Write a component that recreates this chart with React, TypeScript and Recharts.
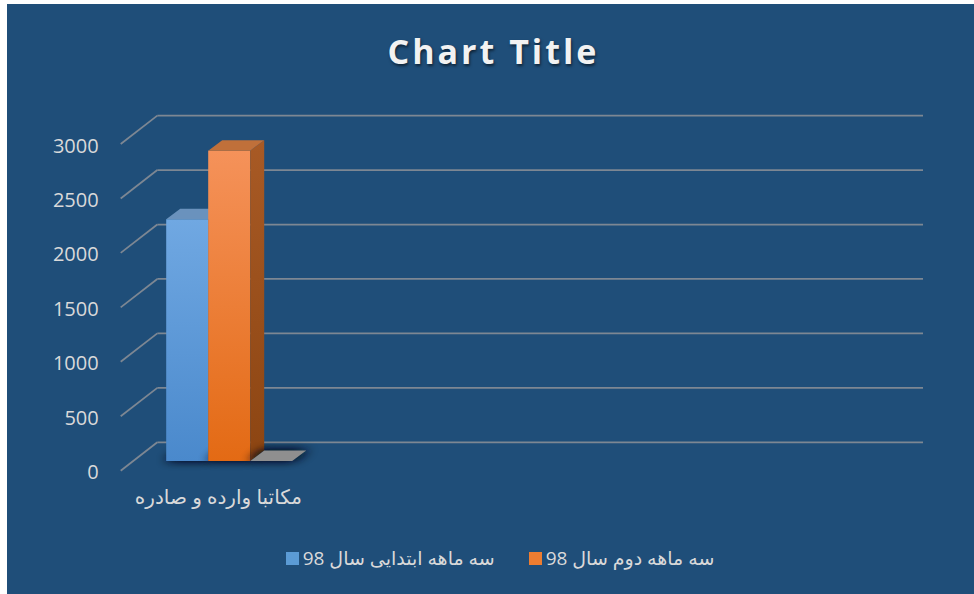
import React from "react";
import { BarChart, Bar, XAxis, YAxis, CartesianGrid, Legend } from "recharts";

// data (only the first category carries values)
const categories = ["مکاتبا وارده و صادره", "", "", ""];
const firstQuarter = [2220, null, null, null];
const secondQuarter = [2850, null, null, null];
const thirdSeries = [0, null, null, null];
const seriesNames = ["سه ماهه ابتدایی سال 98", "سه ماهه دوم سال 98", "Series3"];
const legendKeys = ["s1", "s2"];
const yTicks = [0, 500, 1000, 1500, 2000, 2500, 3000];

const data = categories.map((name, i) => ({
  name,
  s1: firstQuarter[i],
  s2: secondQuarter[i],
  s3: thirdSeries[i],
}));

const BG = "#1f4e79";
const TEXT = "#d9d9d9";
const GRID = "#7d8793";
const FONT = "'Open Sans', 'DejaVu Sans', sans-serif";

// oblique projection of the 3D box
const WALL_DX = 36.6;
const WALL_DY = 28.4;
const BAR_DX = 12.5;
const BAR_DY = 9.7;
const DEPTH_DX = 14;
const DEPTH_DY = 10.5;

type BoxColors = { top: string; front: [string, string]; side: [string, string] };

const boxColors: Record<string, BoxColors> = {
  s1: { top: "#6a92bd", front: ["#70a8e2", "#4a89cc"], side: ["#3f73a8", "#2f5d8c"] },
  s2: { top: "#c0703a", front: ["#f5925a", "#e36a14"], side: ["#a85a25", "#8c4512"] },
  s3: { top: "#8f8f8f", front: ["#a5a5a5", "#8a8a8a"], side: ["#777777", "#666666"] },
};

function makeBox(id: string) {
  const c = boxColors[id];
  return (props: any) => {
    const { x, y, width, height } = props;
    if (x == null || y == null) return <g />;
    const h = Math.max(0, height || 0);
    const fx = x + BAR_DX;
    const fy = y - BAR_DY;
    const right = fx + width;
    const bottom = fy + h;
    const top = `${fx},${fy} ${right},${fy} ${right + DEPTH_DX},${fy - DEPTH_DY} ${fx + DEPTH_DX},${fy - DEPTH_DY}`;
    const side = `${right},${fy} ${right + DEPTH_DX},${fy - DEPTH_DY} ${right + DEPTH_DX},${bottom - DEPTH_DY} ${right},${bottom}`;
    const foot = `${fx},${bottom} ${right},${bottom} ${right + DEPTH_DX},${bottom - DEPTH_DY} ${fx + DEPTH_DX},${bottom - DEPTH_DY}`;
    return (
      <g>
        <defs>
          <linearGradient id={`front-${id}`} x1="0" y1="0" x2="0" y2="1">
            <stop offset="0%" stopColor={c.front[0]} />
            <stop offset="100%" stopColor={c.front[1]} />
          </linearGradient>
          <linearGradient id={`side-${id}`} x1="0" y1="0" x2="0" y2="1">
            <stop offset="0%" stopColor={c.side[0]} />
            <stop offset="100%" stopColor={c.side[1]} />
          </linearGradient>
          <filter id={`shadow-${id}`} x="-100%" y="-300%" width="300%" height="700%">
            <feGaussianBlur stdDeviation="4" />
          </filter>
        </defs>
        <polygon
          points={foot}
          fill="#06111c"
          opacity={0.9}
          filter={`url(#shadow-${id})`}
          transform="translate(-4,0) scale(1)"
        />
        <polygon
          points={foot}
          fill="#06111c"
          opacity={0.7}
          filter={`url(#shadow-${id})`}
          transform="translate(6,-1)"
        />
        {h > 0 && <rect x={fx} y={fy} width={width} height={h} fill={`url(#front-${id})`} />}
        {h > 0 && <polygon points={side} fill={`url(#side-${id})`} />}
        <polygon points={top} fill={c.top} />
      </g>
    );
  };
}

function WallLine(p: any) {
  const { x1, x2, y1 } = p;
  return (
    <g>
      <line x1={x1} y1={y1} x2={x1 + WALL_DX} y2={y1 - WALL_DY} stroke={GRID} strokeWidth={1.75} />
      <line
        x1={x1 + WALL_DX}
        y1={y1 - WALL_DY}
        x2={x2 + WALL_DX}
        y2={y1 - WALL_DY}
        stroke={GRID}
        strokeWidth={1.75}
      />
    </g>
  );
}

function CategoryTick({ x, y, payload }: any) {
  return (
    <text
      x={x + 2}
      y={y}
      dy={33}
      textAnchor="middle"
      fill={TEXT}
      fontSize={20}
      fontFamily={FONT}
      direction="rtl"
    >
      {payload.value}
    </text>
  );
}

function ValueTick({ x, y, payload }: any) {
  return (
    <text x={x} y={y} dy={8.5} textAnchor="end" fill={TEXT} fontSize={20} fontFamily={FONT}>
      {payload.value}
    </text>
  );
}

function LegendContent({ payload }: any) {
  const items = (payload || []).filter((e: any) => legendKeys.includes(e.dataKey));
  return (
    <div
      style={{
        display: "flex",
        justifyContent: "center",
        gap: 34,
        paddingLeft: 19,
        fontFamily: FONT,
        fontSize: 19,
        color: TEXT,
        lineHeight: "24px",
      }}
    >
      {items.map((entry: any) => (
        <div key={entry.value} style={{ display: "flex", alignItems: "center" }}>
          <span
            style={{ width: 13, height: 13, background: entry.color, marginRight: 4, display: "inline-block" }}
          />
          <span style={{ direction: "rtl" }}>{entry.value}</span>
        </div>
      ))}
    </div>
  );
}

export default function App() {
  return (
    <div
      style={{
        position: "absolute",
        left: 7,
        top: 4,
        width: 967,
        height: 590,
        background: BG,
        overflow: "hidden",
      }}
    >
      <div
        style={{
          position: "absolute",
          top: 29.5,
          left: 0,
          width: 967,
          textAlign: "center",
          paddingLeft: 6,
          boxSizing: "border-box",
          fontFamily: FONT,
          fontWeight: 700,
          fontSize: 34,
          lineHeight: "34px",
          letterSpacing: 3,
          color: "#f2f2f2",
          textShadow: "1px 2px 3px rgba(0,0,0,0.55)",
        }}
      >
        Chart Title
      </div>
      <BarChart
        width={967}
        height={590}
        data={data}
        margin={{ top: 140, right: 87.6, bottom: 93.3, left: 0 }}
        barGap={0}
        barSize={42}
      >
        <CartesianGrid vertical={false} horizontal={WallLine} />
        <XAxis
          dataKey="name"
          axisLine={false}
          tickLine={false}
          tickSize={0}
          tickMargin={0}
          interval={0}
          tick={CategoryTick}
        />
        <YAxis
          width={113.7}
          domain={[0, 3000]}
          ticks={yTicks}
          axisLine={false}
          tickLine={false}
          tickSize={0}
          tickMargin={22}
          tick={ValueTick}
        />
        <Legend
          verticalAlign="middle"
          align="center"
          content={LegendContent}
          wrapperStyle={{ top: 542, left: 0, width: 967 }}
        />
        <Bar dataKey="s1" name={seriesNames[0]} fill="#5b9bd5" shape={makeBox("s1")} isAnimationActive={false} />
        <Bar dataKey="s2" name={seriesNames[1]} fill="#ed7d31" shape={makeBox("s2")} isAnimationActive={false} />
        <Bar
          dataKey="s3"
          name={seriesNames[2]}
          fill="#a5a5a5"
          legendType="none"
          shape={makeBox("s3")}
          isAnimationActive={false}
        />
      </BarChart>
    </div>
  );
}
